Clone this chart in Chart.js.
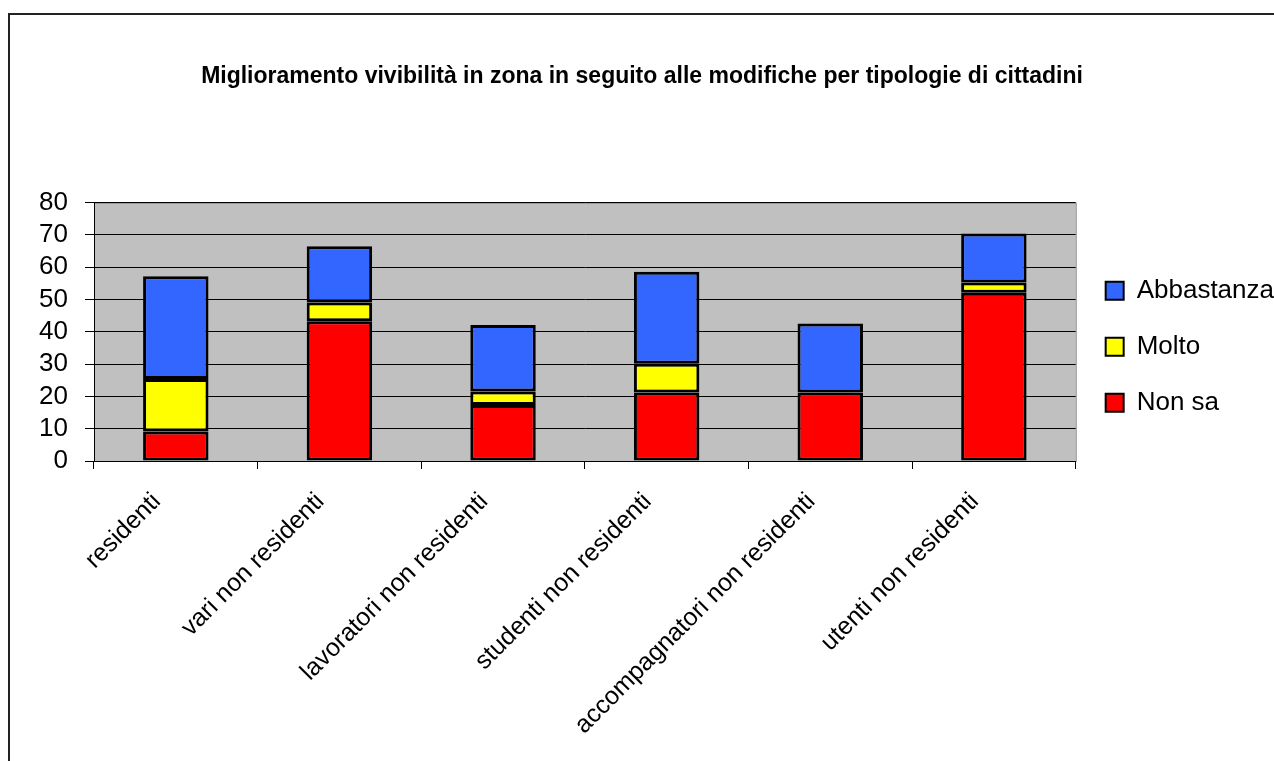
<!DOCTYPE html>
<html lang="it">
<head>
    <meta charset="UTF-8">
    <title>Miglioramento vivibilità</title>
    <script src="https://cdn.jsdelivr.net/npm/chart.js"></script>
    <style>
        body {
            margin: 0;
            background: #fff;
            font-family: Arial, "Liberation Sans", sans-serif;
        }

        .wrap {
            position: relative;
            width: 1274px;
            height: 761px;
        }

        .frame {
            position: absolute;
            left: 8px;
            top: 13px;
            right: 0;
            bottom: 0;
            border-top: 2px solid #222;
            border-left: 2px solid #222;
            pointer-events: none;
        }

        canvas {
            position: absolute;
            left: 0;
            top: 0;
        }
    </style>
</head>
<body>
    <div class="wrap">
        <canvas id="chart" width="1274" height="761"></canvas>
        <div class="frame"></div>
    </div>

    <script>
        // Data
        const categories = ['residenti', 'vari non residenti', 'lavoratori non residenti',
            'studenti non residenti', 'accompagnatori non residenti', 'utenti non residenti'];
        const nonSa = [9.1, 43.3, 17.3, 21.2, 21.2, 52.1];
        const molto = [16.3, 5.8, 4.2, 8.9, 0, 3.2];
        const abbastanza = [31.8, 17.4, 20.6, 28.5, 21.4, 15.1];
        const yTicks = [0, 10, 20, 30, 40, 50, 60, 70, 80];

        const font = 'Arial, "Liberation Sans", sans-serif';

        // grey plot background
        const plotBg = {
            id: 'plotBg',
            beforeDraw(chart) {
                const a = chart.chartArea;
                const c = chart.ctx;
                c.save();
                c.fillStyle = '#c0c0c0';
                c.fillRect(a.left, a.top, a.right - a.left, a.bottom - a.top);
                c.strokeStyle = '#808080';
                c.lineWidth = 1;
                c.strokeRect(a.left + 0.5, a.top + 0.5, a.right - a.left, a.bottom - a.top);
                c.restore();
            }
        };

        const ctx = document.getElementById('chart').getContext('2d');
        new Chart(ctx, {
            type: 'bar',
            data: {
                labels: categories,
                datasets: [
                    { label: 'Non sa', data: nonSa, backgroundColor: '#ff0000' },
                    { label: 'Molto', data: molto, backgroundColor: '#ffff00' },
                    { label: 'Abbastanza', data: abbastanza, backgroundColor: '#3366ff' }
                ].map(d => Object.assign(d, {
                    borderColor: '#000',
                    borderWidth: 3,
                    borderSkipped: false,
                    barPercentage: 0.4,
                    categoryPercentage: 1
                }))
            },
            options: {
                responsive: false,
                animation: false,
                layout: { padding: { top: 0, left: 0, right: -10, bottom: 0 } },
                plugins: {
                    title: {
                        display: true,
                        text: 'Miglioramento vivibilità in zona in seguito alle modifiche per tipologie di cittadini',
                        color: '#000',
                        font: { family: font, size: 23, weight: 'bold' },
                        padding: { top: 63, bottom: 112 }
                    },
                    legend: {
                        position: 'right',
                        fullSize: false,
                        reverse: true,
                        // empty title only pushes the items a bit lower
                        title: {
                            display: true,
                            text: ' ',
                            font: { family: font, size: 25 },
                            padding: 0
                        },
                        labels: {
                            color: '#000',
                            font: { family: font, size: 26 },
                            boxWidth: 18,
                            boxHeight: 18,
                            padding: 30,
                            generateLabels(chart) {
                                const items = Chart.defaults.plugins.legend.labels.generateLabels(chart);
                                items.forEach(it => { it.lineWidth = 2; });
                                return items;
                            }
                        }
                    },
                    tooltip: { enabled: false }
                },
                scales: {
                    x: {
                        stacked: true,
                        grid: {
                            drawOnChartArea: false,
                            drawTicks: true,
                            tickLength: 8,
                            color: '#000'
                        },
                        border: { color: '#000', width: 1 },
                        ticks: {
                            color: '#000',
                            font: { family: font, size: 25 },
                            minRotation: 45,
                            maxRotation: 45,
                            padding: 18,
                            labelOffset: -19,
                            autoSkip: false
                        },
                        afterFit(scale) { scale.height = 300; }
                    },
                    y: {
                        stacked: true,
                        min: 0,
                        max: 80,
                        afterBuildTicks(scale) {
                            scale.ticks = yTicks.map(v => ({ value: v }));
                        },
                        grid: {
                            color: '#000',
                            tickLength: 9,
                            lineWidth: 1
                        },
                        border: { color: '#000', width: 1 },
                        ticks: {
                            color: '#000',
                            font: { family: font, size: 26 },
                            padding: 17,
                            autoSkip: false
                        },
                        afterFit(scale) { scale.width = 94; }
                    }
                }
            },
            plugins: [plotBg]
        });
    </script>
</body>
</html>
